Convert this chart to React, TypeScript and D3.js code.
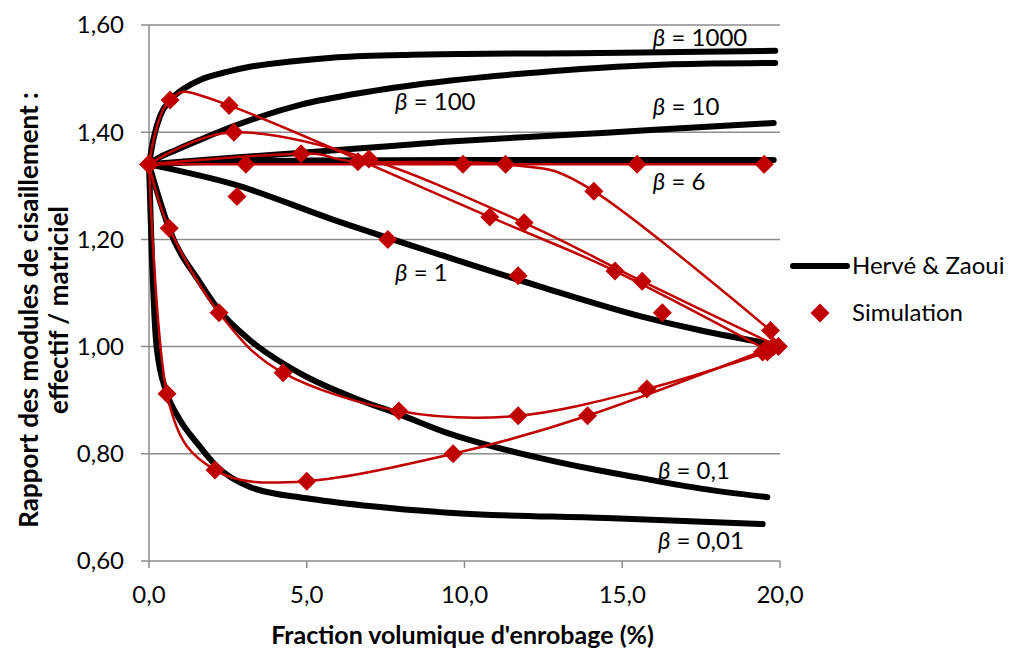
import React from "react";
import * as d3 from "d3";

// ---------- axis ticks ----------
const xTicks = [0, 5, 10, 15, 20];
const yTicks = [0.6, 0.8, 1.0, 1.2, 1.4, 1.6];

// ---------- Hervé & Zaoui model curves (x = fraction %, y = ratio) ----------
const hzBeta1000 = [[0, 1.34], [0.15, 1.39], [0.35, 1.43], [0.67, 1.46], [1.0, 1.477], [1.6, 1.497], [2.5, 1.513], [3.2, 1.522], [4.5, 1.532], [5.8, 1.539], [8, 1.544], [10, 1.546], [12.5, 1.547], [15, 1.548], [17.5, 1.55], [19.85, 1.552]];
const hzBeta100 = [[0, 1.34], [0.3, 1.352], [0.86, 1.367], [1.62, 1.386], [2.67, 1.411], [4.79, 1.451], [6.9, 1.475], [9.5, 1.496], [12.4, 1.512], [15.5, 1.524], [17.8, 1.528], [19.85, 1.529]];
const hzBeta10 = [[0, 1.34], [1, 1.345], [3.74, 1.357], [6.5, 1.369], [9.4, 1.382], [12, 1.391], [14.5, 1.399], [17, 1.408], [19.8, 1.417]];
const hzBeta6 = [[0, 1.34], [2, 1.345], [5, 1.347], [10, 1.348], [15, 1.348], [19.8, 1.348]];
const hzBeta1 = [[0, 1.34], [2.67, 1.303], [5.83, 1.237], [9.3, 1.17], [12.4, 1.112], [15.56, 1.057], [17.5, 1.03], [19.8, 1.004]];
const hzBeta01 = [[0, 1.34], [0.25, 1.29], [0.64, 1.22], [1.62, 1.119], [2.22, 1.068], [3.2, 1.012], [4.79, 0.95], [6.69, 0.9], [7.92, 0.874], [9.4, 0.84], [11, 0.812], [12.4, 0.792], [14, 0.772], [15.56, 0.755], [17.5, 0.735], [19.6, 0.719]];
const hzBeta001 = [[0, 1.34], [0.085, 1.18], [0.24, 1.0], [0.57, 0.912], [0.89, 0.872], [1.62, 0.813], [2.09, 0.78], [3.2, 0.738], [5.0, 0.717], [6.9, 0.703], [9.5, 0.69], [14.5, 0.68], [19.45, 0.669]];

// ---------- simulation points ----------
const simBeta1000 = [[0, 1.34], [0.67, 1.46], [2.54, 1.45], [10.8, 1.242], [14.77, 1.141], [19.55, 0.995]];
const simBeta100 = [[0, 1.34], [2.69, 1.4], [6.97, 1.35], [11.89, 1.231], [15.63, 1.122], [19.95, 1.0]];
const simBeta10 = [[0, 1.34], [4.82, 1.36], [6.62, 1.345], [11.3, 1.34], [14.1, 1.29], [19.7, 1.03]];
const simBeta6 = [[0, 1.34], [3.07, 1.34], [9.95, 1.34], [15.47, 1.34], [19.5, 1.34]];
const simBeta1 = [[0, 1.34], [2.79, 1.28], [7.57, 1.2], [11.7, 1.132], [16.27, 1.063], [19.45, 0.99]];
const simBeta01 = [[0, 1.34], [0.64, 1.221], [2.22, 1.063], [4.25, 0.951], [7.92, 0.88], [11.7, 0.871], [15.78, 0.921], [19.6, 0.99]];
const simBeta001 = [[0, 1.34], [0.57, 0.912], [2.09, 0.77], [5.0, 0.749], [9.64, 0.8], [13.9, 0.871], [19.8, 1.0]];

const hzSeries = [hzBeta1000, hzBeta100, hzBeta10, hzBeta6, hzBeta1, hzBeta01, hzBeta001];
const simLined = [simBeta1000, simBeta100, simBeta10, simBeta6, simBeta01, simBeta001];
const simAll = [simBeta1000, simBeta100, simBeta10, simBeta6, simBeta1, simBeta01, simBeta001];

// ---------- curve labels (anchor in data units) ----------
const labelTexts = ["1000", "100", "10", "6", "1", "0,1", "0,01"];
const labelX = [15.97, 7.8, 15.97, 15.97, 7.8, 16.13, 16.13];
const labelY = [1.561, 1.441, 1.432, 1.292, 1.122, 0.753, 0.622];

const legendNames = ["Hervé & Zaoui", "Simulation"];

const FONT = "Lato, 'Noto Sans', 'DejaVu Sans', sans-serif";
const RED = "#C00000";
const GRID = "#8C8C8C";

export default function App() {
  const x = d3.scaleLinear().domain([0, 20]).range([149, 780]);
  const y = d3.scaleLinear().domain([0.6, 1.6]).range([561, 25]);

  const hzLine = d3
    .line<number[]>()
    .x((d) => x(d[0]))
    .y((d) => y(d[1]))
    .curve(d3.curveMonotoneX);
  const simLine = d3
    .line<number[]>()
    .x((d) => x(d[0]))
    .y((d) => y(d[1]))
    .curve(d3.curveCardinal.tension(0));

  const loc = d3.formatLocale({ decimal: ",", thousands: " ", grouping: [3], currency: ["", "€"] });
  const fy = loc.format(".2f");
  const fx = loc.format(".1f");

  const r = 9.5;
  const diamond = `M0,${-r}L${r},0L0,${r}L${-r},0Z`;

  const [x0, x1] = x.range();
  const yBottom = y(0.6);

  return (
    <svg
      width={1012}
      height={648}
      style={{ position: "absolute", left: 0, top: 0, background: "#fff" }}
      fontFamily={FONT}
    >
      {/* gridlines */}
      {yTicks.map((t) => (
        <line key={"g" + t} x1={x0 - 8} x2={x1} y1={y(t)} y2={y(t)} stroke={GRID} strokeWidth={1.5} />
      ))}
      {/* y axis */}
      <line x1={x0} x2={x0} y1={y(1.6)} y2={yBottom} stroke={GRID} strokeWidth={1.5} />
      {/* x axis ticks */}
      {xTicks.map((t) => (
        <line key={"xt" + t} x1={x(t)} x2={x(t)} y1={yBottom} y2={yBottom + 7} stroke={GRID} strokeWidth={1.5} />
      ))}
      {/* y tick labels */}
      {yTicks.map((t) => (
        <text key={"yl" + t} x={x0 - 25} y={y(t)} dy="0.35em" textAnchor="end" fontSize={24} fill="#000">
          {fy(t)}
        </text>
      ))}
      {/* x tick labels */}
      {xTicks.map((t) => (
        <text key={"xl" + t} x={x(t)} y={603} textAnchor="middle" fontSize={24} fill="#000">
          {fx(t)}
        </text>
      ))}
      {/* axis titles */}
      <text x={(x0 + x1) / 2 - 2} y={644} textAnchor="middle" fontSize={25} fontWeight="bold">
        Fraction volumique d'enrobage (%)
      </text>
      <g transform={`translate(38, 310) rotate(-90)`}>
        <text x={0} y={0} textAnchor="middle" fontSize={26} fontWeight="bold">
          Rapport des modules de cisaillement :
        </text>
        <text x={0} y={30} textAnchor="middle" fontSize={26} fontWeight="bold">
          effectif / matriciel
        </text>
      </g>

      {/* model curves */}
      {hzSeries.map((s, i) => (
        <path key={"hz" + i} d={hzLine(s) || ""} fill="none" stroke="#000" strokeWidth={6} strokeLinecap="round" strokeLinejoin="round" />
      ))}
      {/* simulation smoothed lines */}
      {simLined.map((s, i) => (
        <path key={"sl" + i} d={simLine(s) || ""} fill="none" stroke={RED} strokeWidth={2.5} strokeLinecap="round" />
      ))}
      {/* simulation markers */}
      {simAll.map((s, i) =>
        s.map((p, j) => (
          <path key={"m" + i + "-" + j} d={diamond} transform={`translate(${x(p[0])},${y(p[1])})`} fill={RED} />
        ))
      )}

      {/* curve labels */}
      {labelTexts.map((t, i) => (
        <text key={"lab" + i} x={x(labelX[i])} y={y(labelY[i])} fontSize={24} fill="#000">
          <tspan fontStyle="italic">β</tspan>
          <tspan> = {t}</tspan>
        </text>
      ))}

      {/* legend */}
      <line x1={793} x2={847} y1={266} y2={266} stroke="#000" strokeWidth={6} strokeLinecap="round" />
      <text x={852} y={274} fontSize={24} fill="#000">
        {legendNames[0]}
      </text>
      <path d={diamond} transform="translate(820,313)" fill={RED} />
      <text x={852} y={321} fontSize={24} fill="#000">
        {legendNames[1]}
      </text>
    </svg>
  );
}
